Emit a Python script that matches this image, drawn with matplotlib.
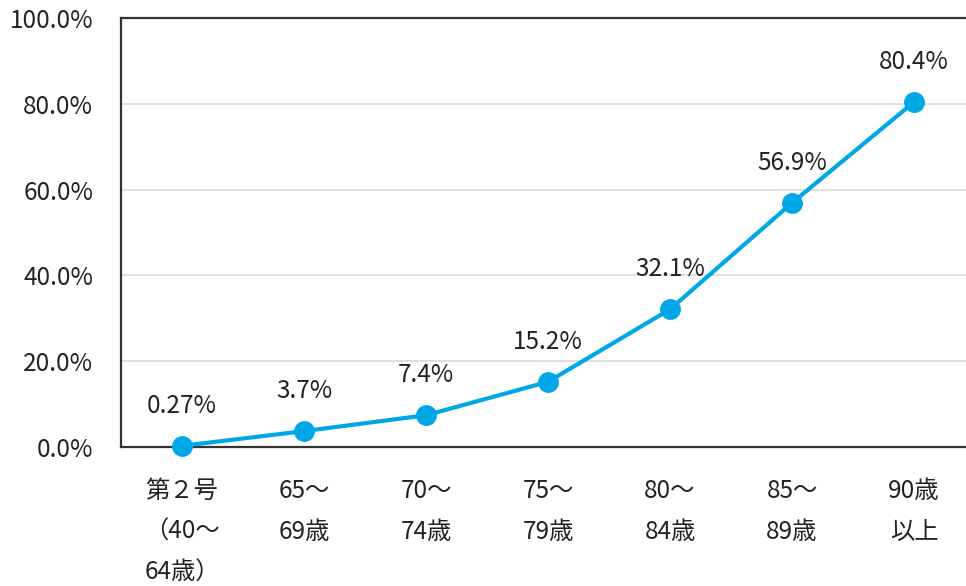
import matplotlib.pyplot as plt

plt.rcParams['font.family'] = ['Noto Sans CJK JP', 'DejaVu Sans']

# =========================
# Daten
# =========================
categories = ["第２号\n（40～\n64歳）", "65～\n69歳", "70～\n74歳", "75～\n79歳",
              "80～\n84歳", "85～\n89歳", "90歳\n以上"]
rates = [0.27, 3.7, 7.4, 15.2, 32.1, 56.9, 80.4]
value_labels = ["0.27%", "3.7%", "7.4%", "15.2%", "32.1%", "56.9%", "80.4%"]
y_ticks = [0, 20, 40, 60, 80, 100]

LINE_COLOR = "#00a7e6"
TEXT_COLOR = "#222222"
FS = 17.5

fig = plt.figure(figsize=(9.66, 5.86), dpi=100)
ax = fig.add_axes([121 / 966, 1 - 447 / 586, 854 / 966, 429 / 586])

x = list(range(len(categories)))
ax.plot(x, rates, color=LINE_COLOR, linewidth=3, marker="o", markersize=14,
        zorder=3, clip_on=False)

for xi, yi, lab in zip(x, rates, value_labels):
    ax.annotate(lab, (xi, yi), xytext=(0, 29), textcoords="offset points",
                ha="center", va="center", fontsize=FS, color=TEXT_COLOR)

ax.set_xlim(-0.5, len(categories) - 0.5)
ax.set_ylim(0, 100)
ax.set_yticks(y_ticks)
ax.set_yticklabels([f"{v:.1f}%" for v in y_ticks], fontsize=FS, color=TEXT_COLOR)
ax.set_xticks(x)
ax.set_xticklabels(categories, fontsize=FS, color=TEXT_COLOR, linespacing=1.75, va="top")

ax.tick_params(axis="both", length=0)
ax.tick_params(axis="y", pad=20)
ax.tick_params(axis="x", pad=22)

ax.grid(axis="y", color="#d9d9d9", linewidth=1.2)
ax.set_axisbelow(True)

for side in ["left", "top", "bottom"]:
    ax.spines[side].set_color("#333333")
    ax.spines[side].set_linewidth(1.6)
ax.spines["right"].set_visible(False)

plt.savefig("out.png", dpi=100)
